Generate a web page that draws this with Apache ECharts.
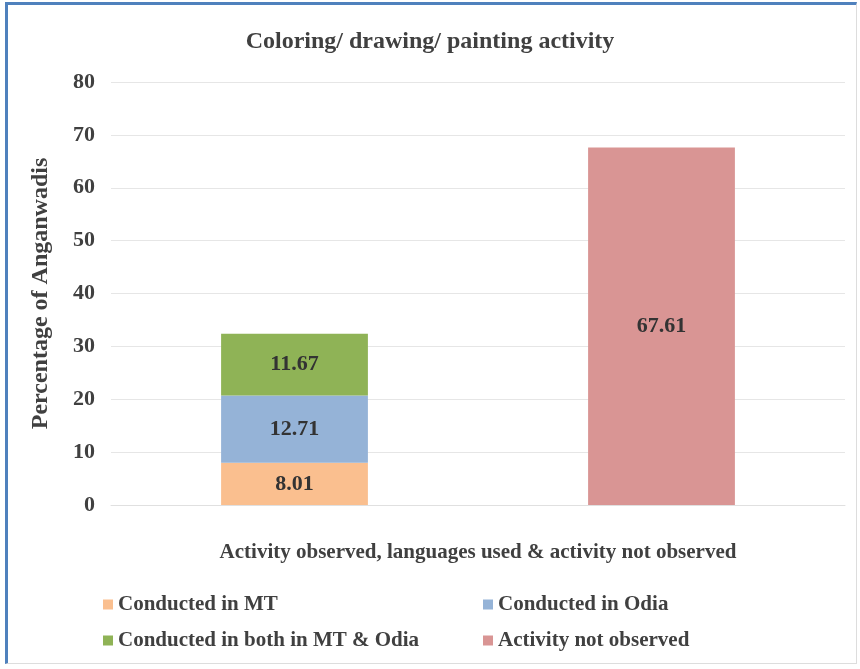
<!DOCTYPE html>
<html>
<head>
<meta charset="utf-8">
<script src="https://cdn.jsdelivr.net/npm/echarts@6/dist/echarts.min.js"></script>
<style>
  html, body { margin: 0; padding: 0; background: #fff; }
  #frame {
    position: absolute; left: 5px; top: 2px; width: 852px; height: 662px;
    border-left: 3px solid #4f81bd; border-top: 3px solid #4f81bd;
    border-right: 1px solid #ddd; border-bottom: 1px solid #ddd;
    box-sizing: border-box;
  }
  #chart { position: absolute; left: 0; top: 0; width: 860px; height: 669px; }
</style>
</head>
<body>
<div id="frame"></div>
<div id="chart"></div>
<script>
// 数据
const categories = ['Activity observed', 'Activity not observed'];
const conductedMT = [8.01, null];
const conductedOdia = [12.71, null];
const conductedBoth = [11.67, null];
const notObserved = [null, 67.61];
const yTicks = [0, 80, 10];

const textColor = '#404040';
const font = '"Liberation Serif", "Times New Roman", serif';

const chart = echarts.init(document.getElementById('chart'), null, { renderer: 'canvas' });

const labelStyle = {
    show: true,
    position: 'inside',
    color: '#333',
    fontFamily: font,
    fontWeight: 'bold',
    fontSize: 22,
    formatter: (p) => p.value.toFixed(2)
};

function barSeries(name, data, color) {
    return {
        name: name,
        type: 'bar',
        stack: 'total',
        barWidth: '40%',
        data: data,
        itemStyle: { color: color },
        label: labelStyle
    };
}

const legendText = { color: textColor, fontFamily: font, fontWeight: 'bold', fontSize: 21 };
function legendAt(name, left, top) {
    return {
        data: [name], left: left, top: top, icon: 'rect',
        itemWidth: 10, itemHeight: 10, itemGap: 4,
        textStyle: legendText
    };
}

const option = {
    animation: false,
    title: {
        text: 'Coloring/ drawing/ painting activity',
        left: 'center', top: 25,
        textStyle: { color: textColor, fontFamily: font, fontWeight: 'bold', fontSize: 24 }
    },
    legend: [
        legendAt('Conducted in MT', 98, 589),
        legendAt('Conducted in Odia', 478, 589),
        legendAt('Conducted in both in MT & Odia', 98, 625),
        legendAt('Activity not observed', 478, 625)
    ],
    grid: { left: 111, right: 15, top: 82, bottom: 164, containLabel: false },
    xAxis: {
        type: 'category',
        data: categories,
        axisLabel: { show: false },
        axisTick: { show: false },
        axisLine: { lineStyle: { color: '#e0e0e0' } },
        name: 'Activity observed, languages used & activity not observed',
        nameLocation: 'middle',
        nameGap: 37,
        nameTextStyle: { color: textColor, fontFamily: font, fontWeight: 'bold', fontSize: 21 }
    },
    yAxis: {
        type: 'value',
        min: yTicks[0], max: yTicks[1], interval: yTicks[2],
        axisLine: { show: false },
        axisTick: { show: false },
        splitLine: { lineStyle: { color: '#e6e6e6', width: 1 } },
        axisLabel: { color: textColor, fontFamily: font, fontWeight: 'bold', fontSize: 22, margin: 16 },
        name: 'Percentage of Anganwadis',
        nameLocation: 'middle',
        nameGap: 58,
        nameTextStyle: { color: textColor, fontFamily: font, fontWeight: 'bold', fontSize: 24 }
    },
    series: [
        barSeries('Conducted in MT', conductedMT, '#fabf8f'),
        barSeries('Conducted in Odia', conductedOdia, '#95b3d7'),
        barSeries('Conducted in both in MT & Odia', conductedBoth, '#8fb356'),
        barSeries('Activity not observed', notObserved, '#d99594')
    ]
};

chart.setOption(option);
</script>
</body>
</html>
